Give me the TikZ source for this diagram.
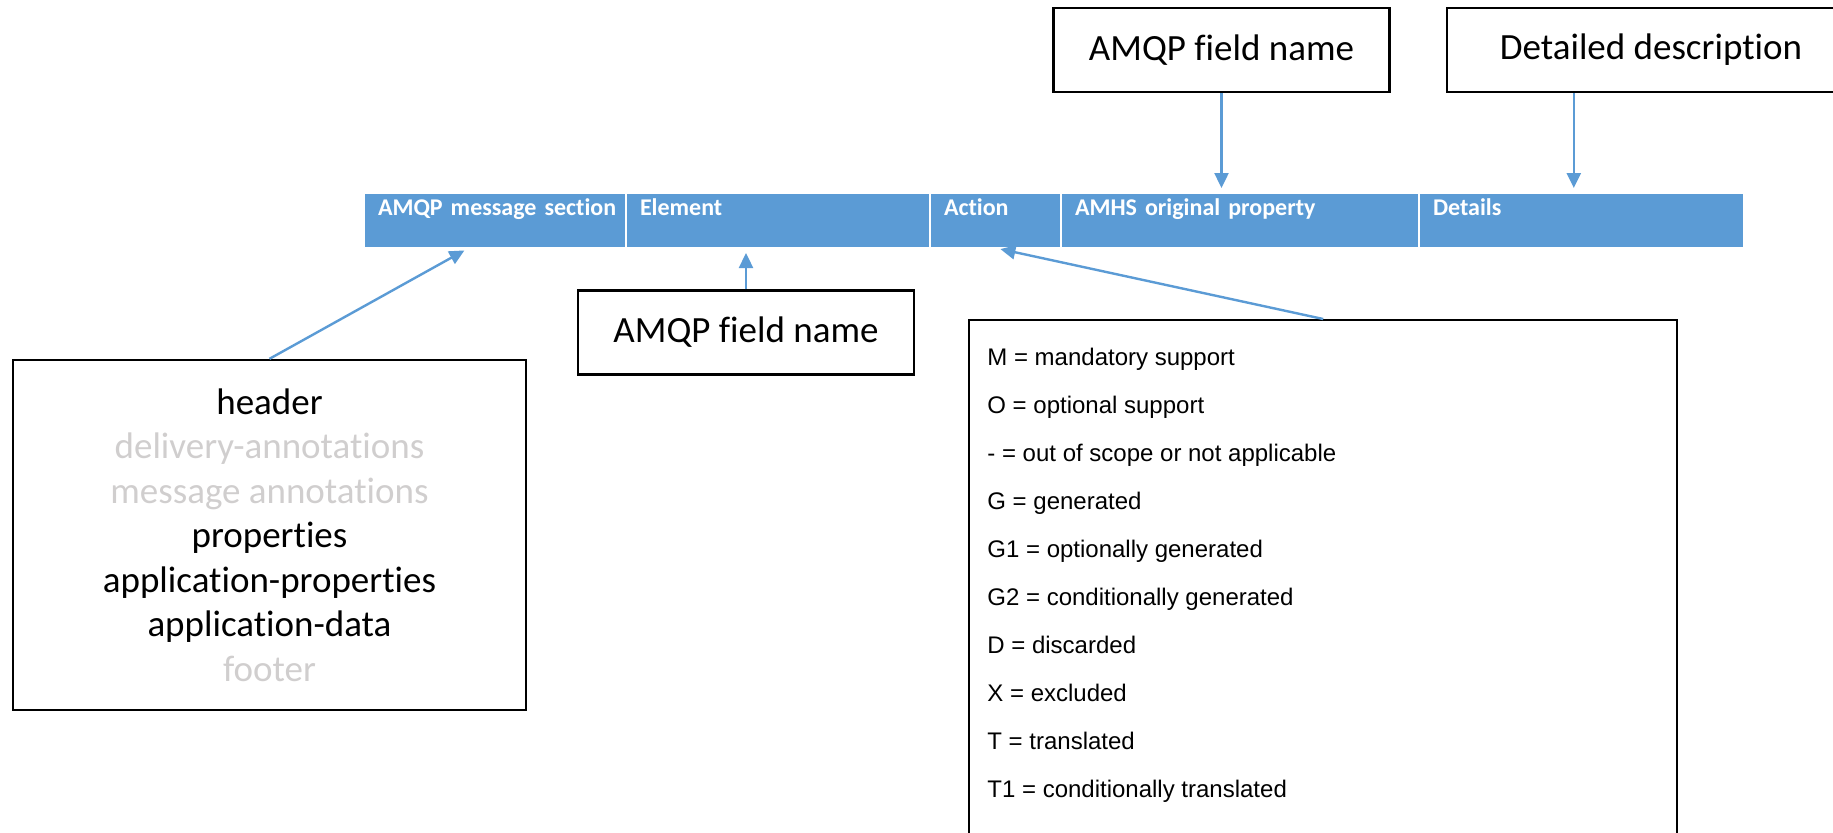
\documentclass[tikz,border=0pt]{standalone}
\usepackage{fontspec}
\setmainfont{Carlito}[Ligatures=NoCommon]
\newfontfamily\legendfont{Liberation Sans}
\usetikzlibrary{arrows.meta, positioning, calc}
\definecolor{amqpblue}{HTML}{5B9BD5}
\definecolor{greyedout}{HTML}{D0CECE}
\newcommand{\faded}[1]{\textcolor{greyedout}{#1}}
\hyphenpenalty=10000

\begin{document}
\begin{tikzpicture}[x=0.5pt,y=-0.5pt,>={Triangle[length=7.5pt,width=7pt]},
  cell/.style={fill=amqpblue,draw=white,line width=1pt,outer sep=0pt,text=white,
    font=\bfseries\fontsize{12}{14}\selectfont,align=left,inner xsep=7pt,inner ysep=0pt,
    text height=11pt,text depth=16.5pt,text width=#1},
  namebox/.style={draw,line width=1.2pt,minimum width=168pt,minimum height=42pt,
    font=\fontsize{18.5}{22.25}\selectfont},
  pointer/.style={->,amqpblue,line width=1.2pt,shorten >=2.5pt}]
  \useasboundingbox (0,0) rectangle (1833,832);

  % column heads
  \node[cell=117pt,anchor=north west] (sect) at (364,193) {AMQP~message~section};
  \node[cell=138pt,right=0pt of sect] (elem) {Element};
  \node[cell=51.5pt,right=0pt of elem] (act) {Action};
  \node[cell=165pt,right=0pt of act] (amhs) {AMHS original property};
  \node[cell=148.5pt,right=0pt of amhs] (det) {Details};

  % callouts
  \node[namebox] (fname) at (1221.5,50) {AMQP field name};
  \node[namebox,minimum width=204pt] (descbox) at (1651,50) {Detailed description};
  \coordinate (descfoot) at ($(descbox.south west)+(128,0)$);
  \node[namebox] (fieldbox) at (746,332.5) {AMQP field name};
  \node[draw,line width=1.2pt,minimum width=256.5pt,minimum height=175pt,align=center,
    font=\fontsize{18.5}{22.25}\selectfont] (secbox) at (269.5,535)
    {header\\ \faded{delivery-annotations}\\ \faded{message annotations}\\ properties\\
     application-properties\\ application-data\\ \faded{footer}};

  % action codes
  \node[draw,line width=1.2pt,minimum width=354pt,minimum height=265pt,anchor=north west] (legbox) at (968,319) {};
  \node[below right=14.5pt and 9.5pt of legbox.north west,inner sep=0pt,align=left,
    font=\legendfont\fontsize{12}{24}\selectfont] (codes)
    {M = mandatory support\\ O = optional support\\ - = out of scope or not applicable\\
     G = generated\\ G1 = optionally generated\\ G2 = conditionally generated\\
     D = discarded\\ X = excluded\\ T = translated\\ T1 = conditionally translated};

  \draw[pointer] (secbox.north) -- ($(sect.south west)!0.4!(sect.south east)$);
  \draw[pointer] (fieldbox.north) -- (fieldbox.north |- elem.south);
  \draw[pointer] (legbox.north) -- (act.south);
  \draw[pointer] (fname.south) -- (fname.south |- amhs.north);
  \draw[pointer] (descfoot) -- (descfoot |- det.north);
\end{tikzpicture}
\end{document}
